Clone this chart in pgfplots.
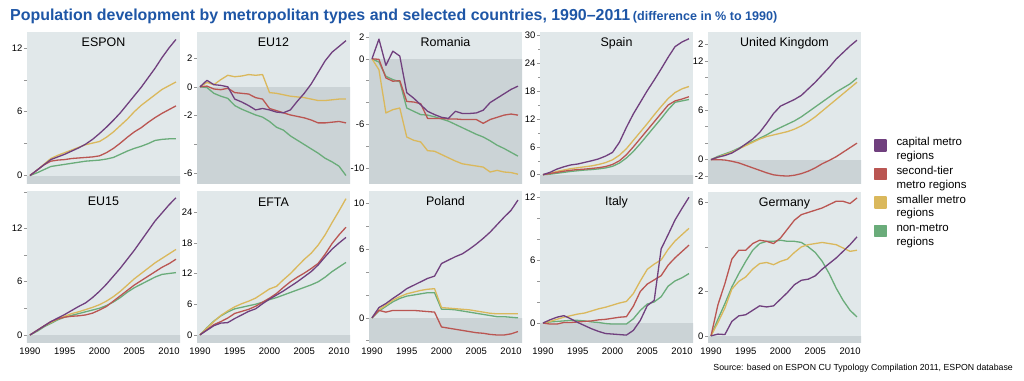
\documentclass[border=0pt]{standalone}
\usepackage{fontspec}
\setmainfont{Liberation Sans}
\usepackage{pgfplots}
\pgfplotsset{compat=1.18}
\usepackage{pgfplotstable}

\definecolor{capc}{RGB}{112,64,126}
\definecolor{secc}{RGB}{186,86,82}
\definecolor{smlc}{RGB}{218,184,92}
\definecolor{nonc}{RGB}{106,172,122}
\definecolor{bgA}{RGB}{225,232,234}
\definecolor{bgB}{RGB}{203,211,214}
\definecolor{tickc}{RGB}{150,150,150}
\definecolor{titleblue}{RGB}{30,86,166}

\pgfplotstableread{
y c s m n
1990 0 0 0 0
1991 0.5 0.5 0.5 0.25
1992 1.0 1.0 1.05 0.55
1993 1.5 1.35 1.6 0.85
1994 1.75 1.45 1.9 0.95
1995 2.0 1.5 2.15 1.05
1996 2.3 1.6 2.4 1.15
1997 2.6 1.65 2.65 1.25
1998 2.95 1.7 2.9 1.35
1999 3.4 1.75 3.05 1.4
2000 3.95 1.85 3.2 1.45
2001 4.55 2.15 3.6 1.55
2002 5.2 2.55 4.1 1.7
2003 5.9 3.05 4.7 2.0
2004 6.7 3.6 5.3 2.3
2005 7.5 4.1 6.0 2.55
2006 8.3 4.5 6.6 2.75
2007 9.2 5.0 7.1 3.0
2008 10.1 5.45 7.6 3.3
2009 11.1 5.85 8.1 3.4
2010 12.0 6.2 8.45 3.45
2011 12.8 6.55 8.8 3.45
}\tESPON

\pgfplotstableread{
y c s m n
1990 0 0 0 0
1991 0.45 0.05 0.3 -0.05
1992 0.15 -0.15 0.15 -0.45
1993 0.1 -0.2 0.5 -0.65
1994 0 -0.1 0.8 -0.8
1995 -0.85 -0.4 0.7 -1.3
1996 -1.05 -0.45 0.75 -1.55
1997 -1.3 -0.5 0.85 -1.75
1998 -1.6 -0.75 0.8 -1.95
1999 -1.5 -0.85 0.85 -2.1
2000 -1.6 -1.5 -0.4 -2.4
2001 -1.75 -1.65 -0.45 -2.8
2002 -1.8 -1.8 -0.55 -3.0
2003 -1.6 -1.95 -0.65 -3.4
2004 -1.0 -2.05 -0.7 -3.7
2005 -0.45 -2.15 -0.75 -4.0
2006 0.2 -2.3 -0.85 -4.3
2007 1.0 -2.5 -0.95 -4.6
2008 1.8 -2.5 -0.95 -4.95
2009 2.4 -2.45 -0.9 -5.2
2010 2.8 -2.4 -0.85 -5.5
2011 3.2 -2.5 -0.85 -6.15
}\tEUtwelve

\pgfplotstableread{
y c s m n
1990 0 0 0 0
1991 1.8 -0.05 -1.0 -0.3
1992 -0.6 -1.75 -4.95 -1.6
1993 0.7 -2.05 -4.65 -1.9
1994 0.25 -2.0 -4.5 -2.1
1995 -3.1 -3.9 -7.15 -4.5
1996 -3.6 -3.95 -7.45 -4.8
1997 -4.2 -4.1 -7.6 -5.1
1998 -4.8 -5.45 -8.4 -5.15
1999 -5.1 -5.45 -8.45 -5.3
2000 -5.35 -5.45 -8.75 -5.5
2001 -5.45 -5.5 -9.05 -5.7
2002 -4.8 -5.5 -9.35 -6.0
2003 -5.0 -5.55 -9.6 -6.3
2004 -5.0 -5.55 -9.7 -6.6
2005 -4.95 -5.55 -9.8 -6.9
2006 -4.7 -5.9 -9.9 -7.15
2007 -4.0 -5.55 -10.35 -7.5
2008 -3.6 -5.35 -10.2 -7.9
2009 -3.2 -5.15 -10.35 -8.2
2010 -2.8 -5.05 -10.4 -8.55
2011 -2.5 -5.15 -10.55 -8.9
}\tRomania

\pgfplotstableread{
y c s m n
1990 0 0 0 0
1991 0.5 0.25 0.3 0.1
1992 1.2 0.5 0.7 0.3
1993 1.7 0.75 1.0 0.5
1994 2.1 0.95 1.3 0.7
1995 2.3 1.1 1.5 0.85
1996 2.65 1.2 1.7 1.0
1997 3.0 1.35 1.9 1.1
1998 3.4 1.5 2.2 1.25
1999 4.0 1.75 2.6 1.45
2000 4.8 2.2 3.2 1.8
2001 7.0 3.0 4.2 2.5
2002 10.2 4.3 5.6 3.6
2003 13.1 6.0 7.4 5.0
2004 15.6 7.8 9.2 6.7
2005 18.1 9.6 11.0 8.5
2006 20.4 11.4 12.9 10.3
2007 22.8 13.2 14.7 12.1
2008 25.3 15.0 16.4 14.0
2009 27.6 15.9 17.7 15.6
2010 28.6 16.3 18.5 15.9
2011 29.3 16.8 19.0 16.2
}\tSpain

\pgfplotstableread{
y c s m n
1990 0 0 0 0
1991 0.3 0.0 0.3 0.4
1992 0.5 -0.05 0.6 0.7
1993 0.8 -0.2 0.9 1.0
1994 1.3 -0.4 1.3 1.4
1995 1.9 -0.7 1.7 1.8
1996 2.5 -1.0 2.1 2.2
1997 3.3 -1.3 2.5 2.6
1998 4.4 -1.6 2.8 3.0
1999 5.6 -1.85 3.0 3.5
2000 6.5 -1.95 3.2 3.9
2001 6.9 -2.0 3.4 4.3
2002 7.3 -1.9 3.7 4.7
2003 7.8 -1.7 4.1 5.2
2004 8.6 -1.4 4.6 5.8
2005 9.4 -1.0 5.2 6.4
2006 10.3 -0.5 5.9 7.0
2007 11.2 -0.1 6.6 7.6
2008 12.2 0.35 7.3 8.2
2009 13.0 0.9 8.0 8.7
2010 13.8 1.45 8.7 9.2
2011 14.5 2.0 9.4 9.9
}\tUK

\pgfplotstableread{
y c s m n
1990 0 0 0 0
1991 0.5 0.5 0.5 0.4
1992 1.0 1.0 1.0 0.9
1993 1.5 1.5 1.4 1.3
1994 1.9 1.8 1.8 1.7
1995 2.3 2.0 2.1 2.0
1996 2.75 2.1 2.4 2.2
1997 3.2 2.15 2.6 2.4
1998 3.6 2.25 2.85 2.6
1999 4.2 2.45 3.1 2.8
2000 4.9 2.8 3.4 3.0
2001 5.7 3.2 3.8 3.3
2002 6.6 3.8 4.3 3.7
2003 7.5 4.4 4.9 4.2
2004 8.5 5.0 5.6 4.8
2005 9.5 5.6 6.3 5.3
2006 10.6 6.1 6.9 5.7
2007 11.7 6.6 7.5 6.1
2008 12.8 7.1 8.1 6.5
2009 13.7 7.6 8.6 6.8
2010 14.6 8.0 9.1 6.9
2011 15.4 8.5 9.6 7.0
}\tEUfifteen

\pgfplotstableread{
y c s m n
1990 0 0 0 0
1991 0.9 1.0 1.3 1.4
1992 1.8 2.0 2.6 2.7
1993 2.3 2.6 3.8 3.7
1994 2.4 3.3 4.7 4.5
1995 3.2 4.2 5.5 5.1
1996 3.9 4.6 6.1 5.4
1997 4.6 5.0 6.6 5.7
1998 5.1 5.6 7.2 6.0
1999 6.1 6.4 8.1 6.4
2000 7.0 7.2 9.0 6.9
2001 7.8 8.1 9.5 7.3
2002 8.6 9.3 10.8 7.8
2003 9.5 10.4 12.0 8.3
2004 10.4 11.3 13.4 8.8
2005 11.4 12.1 14.8 9.3
2006 12.4 13.0 16.0 9.8
2007 13.7 14.0 17.6 10.4
2008 15.3 15.8 19.6 11.3
2009 16.8 17.9 22.0 12.4
2010 18.0 19.6 24.3 13.3
2011 19.1 21.1 26.7 14.2
}\tEFTA

\pgfplotstableread{
y c s m n
1990 0 0 0 0
1991 0.9 0.65 0.7 0.6
1992 1.25 0.5 1.1 1.0
1993 1.7 0.65 1.55 1.4
1994 2.1 0.65 1.85 1.7
1995 2.55 0.65 2.1 1.9
1996 2.85 0.65 2.25 2.0
1997 3.15 0.6 2.4 2.1
1998 3.45 0.55 2.5 2.2
1999 3.65 0.5 2.55 2.2
2000 4.75 -0.8 0.9 0.75
2001 5.05 -0.9 0.85 0.75
2002 5.35 -1.0 0.8 0.7
2003 5.6 -1.1 0.75 0.6
2004 6.0 -1.2 0.7 0.5
2005 6.45 -1.3 0.6 0.4
2006 6.95 -1.35 0.5 0.3
2007 7.5 -1.45 0.4 0.2
2008 8.15 -1.5 0.35 0.1
2009 8.8 -1.5 0.35 0.1
2010 9.4 -1.4 0.35 0.05
2011 10.3 -1.2 0.35 0.0
}\tPoland

\pgfplotstableread{
y c s m n
1990 0 0 0 0
1991 0.3 -0.1 0.15 0.1
1992 0.55 -0.1 0.35 0.15
1993 0.7 0.05 0.55 0.2
1994 0.4 0.05 0.7 0.25
1995 0.05 0.1 0.85 0.25
1996 -0.25 0.15 0.95 0.2
1997 -0.55 0.2 1.15 0.1
1998 -0.8 0.3 1.35 0.05
1999 -1.0 0.35 1.5 -0.05
2000 -1.05 0.45 1.7 -0.1
2001 -1.1 0.55 1.9 -0.1
2002 -1.15 0.6 2.05 -0.1
2003 -0.7 1.6 2.8 0.4
2004 0.25 3.0 4.0 1.2
2005 1.65 3.7 5.1 1.8
2006 2.15 4.1 5.6 2.0
2007 7.05 4.5 6.0 2.5
2008 8.4 5.5 7.0 3.5
2009 9.8 6.2 7.8 4.0
2010 10.9 6.8 8.4 4.3
2011 11.95 7.4 9.0 4.7
}\tItaly

\pgfplotstableread{
y c s m n
1990 0 0 0 0
1991 0.08 1.4 0.6 0.75
1992 0.06 2.35 1.25 1.45
1993 0.65 3.45 2.1 2.2
1994 0.9 3.85 2.45 2.8
1995 0.95 3.85 2.65 3.35
1996 1.15 4.15 3.0 3.85
1997 1.35 4.3 3.25 4.15
1998 1.3 4.25 3.3 4.25
1999 1.35 4.15 3.2 4.25
2000 1.65 4.4 3.35 4.3
2001 1.95 4.8 3.45 4.25
2002 2.3 5.2 3.75 4.25
2003 2.5 5.45 4.0 4.2
2004 2.55 5.55 4.1 4.0
2005 2.7 5.65 4.15 3.75
2006 3.0 5.75 4.2 3.35
2007 3.25 5.9 4.15 2.8
2008 3.5 6.05 4.1 2.15
2009 3.8 6.05 3.95 1.6
2010 4.1 5.95 3.8 1.15
2011 4.45 6.2 3.85 0.85
}\tGermany

\pgfplotsset{
  panel/.style={
    scale only axis, width=153bp, height=151.5bp,
    xmin=1989.57, xmax=2011.58,
    axis line style={draw=none},
    axis background/.style={fill=bgA},
    tick align=outside, major tick length=3bp, minor tick length=2bp,
    tick style={draw=tickc, line width=0.5bp},
    ytick pos=left,
    yticklabel style={font=\fontsize{9.5}{10}\selectfont, text=black, inner sep=1.5bp},
    xtick=\empty,
    every axis plot/.append style={line width=1.3bp, line join=round},
  },
  bottomrow/.style={
    xtick={1990,1995,2000,2005,2010},
    xticklabels={1990,1995,2000,2005,2010},
    xtick style={draw=none},
    xticklabel style={font=\fontsize{9.5}{10}\selectfont, text=black, inner sep=1.5bp},
  },
}

\newcommand{\panelplots}[2]{%
  \fill[bgB] (axis cs:1980,-100) rectangle (axis cs:2020,0);
  \addplot[nonc] table[x=y,y=n]{#1};
  \addplot[smlc] table[x=y,y=m]{#1};
  \addplot[secc] table[x=y,y=s]{#1};
  \addplot[capc] table[x=y,y=c]{#1};
  \node[anchor=base, yshift=-14.5bp, font=\fontsize{12.5}{14}\selectfont] at (rel axis cs:0.5,1) {#2};
}

\begin{document}
\begin{tikzpicture}
\path[use as bounding box] (0,0) rectangle (1024bp,381bp);

\node[anchor=base west, inner sep=0pt, text=titleblue, font=\fontsize{16}{18}\selectfont\bfseries] at (10bp,360.5bp)
  {Population development by metropolitan types and selected countries, 1990–2011\,{\fontsize{12.6}{14}\selectfont(difference in \% to 1990)}};

% Row 1
\begin{axis}[panel, at={(27bp,197.5bp)}, anchor=south west,
  ymin=-0.75, ymax=13.5, ytick={0,3,6,9,12}, yticklabels={0,,6,,12}]
\panelplots{\tESPON}{ESPON}
\end{axis}

\begin{axis}[panel, at={(197bp,197.5bp)}, anchor=south west,
  ymin=-6.7, ymax=3.8, ytick={-6,-4,-2,0,2}, yticklabels={-6,,-2,0,2}]
\panelplots{\tEUtwelve}{EU12}
\end{axis}

\begin{axis}[panel, at={(369bp,197.5bp)}, anchor=south west,
  ymin=-11.4, ymax=2.45, ytick={-10,-8,-6,-4,-2,0,2}, yticklabels={-10,,-6,,,0,2}]
\panelplots{\tRomania}{Romania}
\end{axis}

\begin{axis}[panel, at={(540bp,197.5bp)}, anchor=south west,
  ymin=-1.9, ymax=30.75, ytick={0,6,12,18,24,30}, yticklabels={0,6,12,18,24,30},
  minor ytick={3,9,15,21,27}]
\panelplots{\tSpain}{Spain}
\end{axis}

\begin{axis}[panel, at={(708bp,197.5bp)}, anchor=south west,
  ymin=-2.9, ymax=15.5, ytick={-2,0,2,4,6,8,10,12,14}, yticklabels={-2,0,,,6,,,12,2},
  reverse legend,
  legend style={at={(axis description cs:1.085,0.325)}, anchor=north west, draw=none, fill=none,
    inner sep=0pt, font=\fontsize{11.5}{13}\selectfont\def\arraystretch{1.05}, row sep=6.5bp,
    /tikz/every odd column/.append style={column sep=8bp}},
  legend cell align=left,
  legend image code/.code={\fill[#1] (0bp,-5.5bp) rectangle (11bp,5.5bp);}]
\panelplots{\tUK}{United Kingdom}
\addlegendentry{\begin{tabular}{@{}l@{}}non-metro\\regions\end{tabular}}
\addlegendentry{\begin{tabular}{@{}l@{}}smaller metro\\regions\end{tabular}}
\addlegendentry{\begin{tabular}{@{}l@{}}second-tier\\metro regions\end{tabular}}
\addlegendentry{\begin{tabular}{@{}l@{}}capital metro\\regions\end{tabular}}
\end{axis}

% Row 2
\begin{axis}[panel, bottomrow, at={(27bp,38bp)}, anchor=south west,
  ymin=-0.9, ymax=16.1, ytick={0,3,6,9,12,16}, yticklabels={0,,6,,12,}]
\panelplots{\tEUfifteen}{EU15}
\end{axis}

\begin{axis}[panel, bottomrow, at={(197bp,38bp)}, anchor=south west,
  ymin=-1.6, ymax=28.1, ytick={0,6,12,18,24}, yticklabels={0,6,12,18,24}]
\panelplots{\tEFTA}{EFTA}
\end{axis}

\begin{axis}[panel, bottomrow, at={(369bp,38bp)}, anchor=south west,
  ymin=-2.2, ymax=11.05, ytick={-2,0,2,4,6,8,10}, yticklabels={,0,,,6,,10}]
\panelplots{\tPoland}{Poland}
\end{axis}

\begin{axis}[panel, bottomrow, at={(540bp,38bp)}, anchor=south west,
  ymin=-1.9, ymax=12.5, ytick={0,2,4,6,8,10,12}, yticklabels={0,,,6,,,12}]
\panelplots{\tItaly}{Italy}
\end{axis}

\begin{axis}[panel, bottomrow, at={(708bp,38bp)}, anchor=south west,
  ymin=-0.32, ymax=6.49, ytick={0,2,4,6}, yticklabels={0,2,,6}]
\panelplots{\tGermany}{Germany}
\end{axis}

\node[anchor=east, inner sep=0pt, font=\fontsize{8.8}{10}\selectfont] at (1013bp,13bp)
  {Source: based on ESPON CU Typology Compilation 2011, ESPON database};
\end{tikzpicture}
\end{document}
